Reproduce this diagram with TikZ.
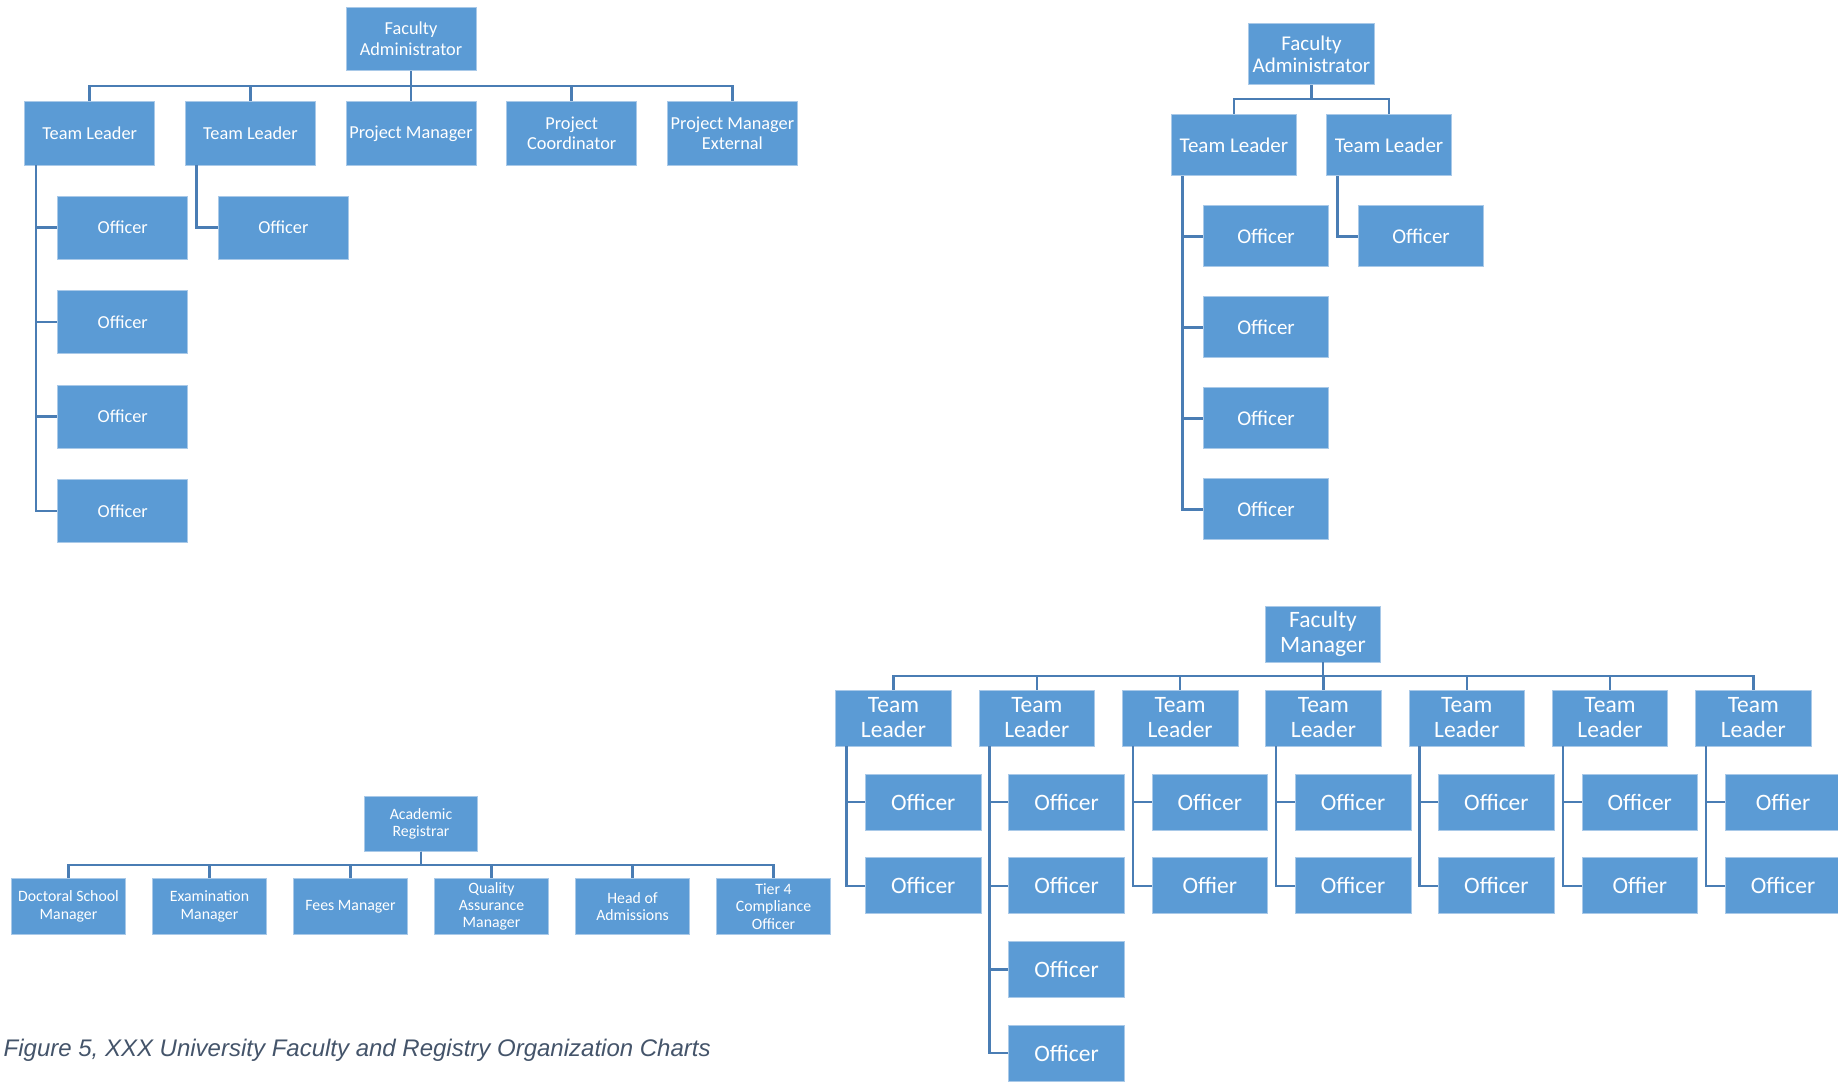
\documentclass[tikz,border=0pt]{standalone}
\usepackage{fontspec}
\setmainfont{Carlito}
\newfontfamily\capfont{Liberation Sans}
\definecolor{boxblue}{HTML}{5B9BD5}
\definecolor{boxrim}{HTML}{A9C9E8}
\definecolor{linkblue}{HTML}{4A7DB4}
\definecolor{captiongray}{HTML}{44546A}
\begin{document}
\begin{tikzpicture}[x=1pt,y=-1pt,
  box/.style={rectangle, fill=boxblue, draw=boxrim, line width=0.8pt, text=white, align=center, inner sep=0pt},
  boxA/.style={box, minimum width=130pt, minimum height=63.3pt, font=\fontsize{18.3}{20.7}\selectfont},
  boxB/.style={box, minimum width=125.5pt, minimum height=61pt, font=\fontsize{21}{22.5}\selectfont},
  boxC/.style={box, minimum width=113.6pt, minimum height=55.3pt, font=\fontsize{15.8}{17.4}\selectfont},
  boxD/.style={box, minimum width=115.6pt, minimum height=56pt, font=\fontsize{23.5}{25}\selectfont},
  link/.style={draw=linkblue, line width=2.7pt},
  linkthin/.style={draw=linkblue, line width=2.4pt},
]
\useasboundingbox[fill=white] (0,0) rectangle (1838,1081);

% ---- Faculty Administrator chart (five reports) ----
\node[boxA] (a0) at (411,39) {Faculty\\Administrator};
\node[boxA] (a1) at (89.7,133.4) {Team Leader};
\node[boxA] (a2) at (250.4,133.4) {Team Leader};
\node[boxA] (a3) at (411,133.4) {Project Manager};
\node[boxA] (a4) at (571.7,133.4) {Project\\Coordinator};
\node[boxA] (a5) at (732.4,133.4) {Project Manager\\External};
\foreach \i/\y in {1/227.6,2/322.1,3/416.6,4/510.9}
  \node[boxA] (a1o\i) at (122.8,\y) {Officer};
\node[boxA] (a2o1) at (283.4,227.6) {Officer};
\coordinate (abus) at (0,86);
\coordinate (av1) at (36,0);
\coordinate (av2) at (196.7,0);
\foreach \c in {1,...,5}
  \draw[link] (a0.south) -- (a0.south |- abus) -| (a\c.north);
\foreach \i in {1,...,4}
  \draw[link] (av1 |- a1.south) |- (a1o\i.west);
\draw[link] (av2 |- a2.south) |- (a2o1.west);

% ---- Faculty Administrator chart (two team leaders) ----
\node[boxB] (b0) at (1311.5,54.2) {Faculty\\Administrator};
\node[boxB] (b1) at (1233.9,145.2) {Team Leader};
\node[boxB] (b2) at (1389,145.2) {Team Leader};
\foreach \i/\y in {1/236.3,2/327.3,3/418.3,4/509.3}
  \node[boxB] (b1o\i) at (1266,\y) {Officer};
\node[boxB] (b2o1) at (1421,236.3) {Officer};
\coordinate (bbus) at (0,99);
\coordinate (bv1) at (1182.3,0);
\coordinate (bv2) at (1337.7,0);
\foreach \c in {1,2}
  \draw[link] (b0.south) -- (b0.south |- bbus) -| (b\c.north);
\foreach \i in {1,...,4}
  \draw[link] (bv1 |- b1.south) |- (b1o\i.west);
\draw[link] (bv2 |- b2.south) |- (b2o1.west);

% ---- Academic Registrar chart ----
\node[boxC] (r0) at (421,823.6) {Academic\\Registrar};
\node[boxC] (r1) at (68.5,906.3) {Doctoral School\\Manager};
\node[boxC] (r2) at (209.5,906.3) {Examination\\Manager};
\node[boxC] (r3) at (350.5,906.3) {Fees Manager};
\node[boxC] (r4) at (491.5,906.3) {Quality\\Assurance\\Manager};
\node[boxC] (r5) at (632.5,906.3) {Head of\\Admissions};
\node[boxC] (r6) at (773.5,906.3) {Tier 4\\Compliance\\Officer};
\coordinate (rbus) at (0,864.7);
\foreach \c in {1,...,6}
  \draw[linkthin] (r0.south) -- (r0.south |- rbus) -| (r\c.north);

% ---- Faculty Manager chart ----
\node[boxD] (m0) at (1323,634) {Faculty\\Manager};
\coordinate (mbus) at (0,676);
\foreach \k in {1,...,7} {
  \pgfmathsetmacro\tx{893.5+143.3*(\k-1)}
  \node[boxD] (m\k) at (\tx,718) {Team\\Leader};
  \draw[linkthin] (m0.south) -- (m0.south |- mbus) -| (m\k.north);
}
\foreach \k/\j/\t in {1/1/Officer,1/2/Officer,
                      2/1/Officer,2/2/Officer,2/3/Officer,2/4/Officer,
                      3/1/Officer,3/2/Offier,
                      4/1/Officer,4/2/Officer,
                      5/1/Officer,5/2/Officer,
                      6/1/Officer,6/2/Offier,
                      7/1/Offier,7/2/Officer} {
  \pgfmathsetmacro\ox{893.5+143.3*(\k-1)+29.7}
  \pgfmathsetmacro\oy{802+83.7*(\j-1)}
  \node[boxD] (m\k-\j) at (\ox,\oy) {\t};
  \draw[linkthin] ([xshift=-47.2pt]m\k.south) |- (m\k-\j.west);
}

% ---- caption ----
\node[anchor=base west, inner sep=0pt, text=captiongray,
      font={\capfont\itshape\fontsize{24}{28}\selectfont}] (cap) at (3.5,1056)
  {Figure 5, XXX University Faculty and Registry Organization Charts};
\end{tikzpicture}
\end{document}
